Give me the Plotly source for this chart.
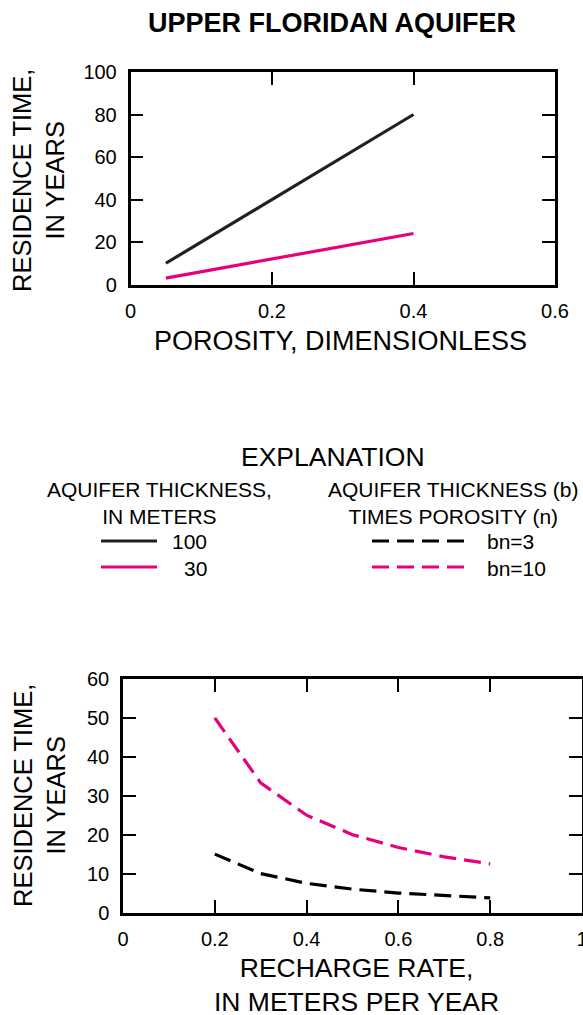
import plotly.graph_objects as go

# ---- data ----
porosity = [0.05, 0.4]
res_time_100m = [10, 80]
res_time_30m = [3, 24]

recharge = [0.2, 0.3, 0.4, 0.5, 0.6, 0.7, 0.8]
res_time_bn3 = [15, 10, 7.5, 6, 5, 4.3, 3.75]
res_time_bn10 = [50, 33.3, 25, 20, 16.7, 14.3, 12.5]

top_xticks = [0, 0.2, 0.4, 0.6]
top_xticklabels = ["0", "0.2", "0.4", "0.6"]
top_yticks = [0, 20, 40, 60, 80, 100]
bot_xticks = [0, 0.2, 0.4, 0.6, 0.8, 1]
bot_xticklabels = ["0", "0.2", "0.4", "0.6", "0.8", "1"]
bot_yticks = [0, 10, 20, 30, 40, 50, 60]

BLACK = "#231F20"
PINK = "#E6007E"
FONT = "Liberation Sans, Arial, sans-serif"
W, H = 583, 1015

def px(x):
    return x / W

def py(y):
    return 1 - y / H

fig = go.Figure()
fig.add_trace(go.Scatter(x=porosity, y=res_time_100m, mode="lines",
                         line=dict(color=BLACK, width=3.2), xaxis="x", yaxis="y"))
fig.add_trace(go.Scatter(x=porosity, y=res_time_30m, mode="lines",
                         line=dict(color=PINK, width=3.2), xaxis="x", yaxis="y"))
fig.add_trace(go.Scatter(x=recharge, y=res_time_bn3, mode="lines",
                         line=dict(color="black", width=3.2, dash="17px,8px"),
                         xaxis="x2", yaxis="y2"))
fig.add_trace(go.Scatter(x=recharge, y=res_time_bn10, mode="lines",
                         line=dict(color=PINK, width=3.2, dash="17px,8px"),
                         xaxis="x2", yaxis="y2"))

axis_common = dict(showline=True, linecolor="black", linewidth=2.5, mirror="ticks",
                   ticks="inside", ticklen=13, tickwidth=2, tickcolor="black",
                   showgrid=False, zeroline=False, automargin=False,
                   ticklabeloverflow="allow",
                   tickfont=dict(family=FONT, size=20, color="black"))

fig.update_layout(
    template="none",
    width=W, height=H, margin=dict(l=0, r=0, t=0, b=0, pad=0), autosize=False,
    paper_bgcolor="white", plot_bgcolor="white", showlegend=False,
    font=dict(family=FONT, color="black"),
    xaxis=dict(domain=[px(130.5), px(555)], range=[0, 0.6], anchor="y",
               tickvals=top_xticks, ticktext=top_xticklabels, ticklabelstandoff=7,
               **axis_common),
    yaxis=dict(domain=[py(284.5), py(72)], range=[0, 100], anchor="x",
               tickvals=top_yticks, ticklabelstandoff=7, **axis_common),
    xaxis2=dict(domain=[px(123), px(582)], range=[0, 1], anchor="y2",
                tickvals=bot_xticks, ticktext=bot_xticklabels, ticklabelstandoff=7,
                **axis_common),
    yaxis2=dict(domain=[py(912.5), py(679)], range=[0, 60], anchor="x2",
                tickvals=bot_yticks, ticklabelstandoff=7, **axis_common),
)

ann = []
def text(t, x, y, size, xanchor="center", angle=0):
    ann.append(dict(text=t, x=px(x), y=py(y), xref="paper", yref="paper",
                    xanchor=xanchor, yanchor="middle", showarrow=False,
                    textangle=angle, font=dict(family=FONT, size=size, color="black")))

text("<b>UPPER FLORIDAN AQUIFER</b>", 332, 22.5, 27)
text("POROSITY, DIMENSIONLESS", 340, 341, 27)
text("RESIDENCE TIME,<br>IN YEARS", 39, 181, 25.5, angle=-90)
text("RESIDENCE TIME,<br>IN YEARS", 39, 796, 25.5, angle=-90)
text("RECHARGE RATE,<br>IN METERS PER YEAR", 356, 984.5, 26.5)

# explanation
text("EXPLANATION", 332.5, 457, 26.5)
text("AQUIFER THICKNESS,<br>IN METERS", 159, 503, 21)
text("AQUIFER THICKNESS (b)<br>TIMES POROSITY (n)", 453, 503, 21)
text("100", 209, 541, 21, xanchor="right")
text("30", 209, 568, 21, xanchor="right")
text("bn=3", 485, 541, 21, xanchor="left")
text("bn=10", 485, 568, 21, xanchor="left")

shapes = [
    dict(type="line", xref="paper", yref="paper", x0=px(101), x1=px(157), y0=py(541), y1=py(541),
         line=dict(color=BLACK, width=3)),
    dict(type="line", xref="paper", yref="paper", x0=px(101), x1=px(157), y0=py(567), y1=py(567),
         line=dict(color=PINK, width=3)),
    dict(type="line", xref="paper", yref="paper", x0=px(372), x1=px(468), y0=py(541), y1=py(541),
         line=dict(color="black", width=3, dash="17px,8px")),
    dict(type="line", xref="paper", yref="paper", x0=px(372), x1=px(468), y0=py(567), y1=py(567),
         line=dict(color=PINK, width=3, dash="17px,8px")),
]
fig.update_layout(annotations=ann, shapes=shapes)

fig.write_html("out.html")
